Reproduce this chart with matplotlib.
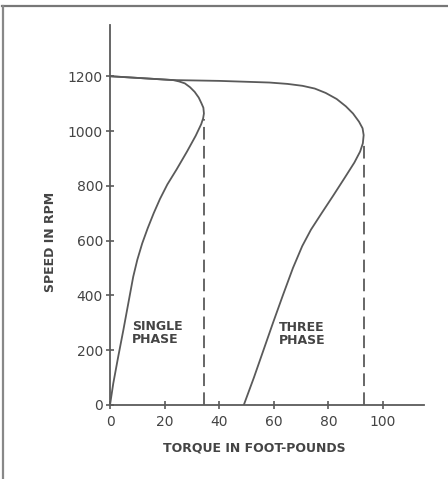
import matplotlib
matplotlib.use("Agg")
import matplotlib.pyplot as plt
from matplotlib.lines import Line2D

# ---- data ----
single_torque = [0, 1.2, 3.0, 4.9, 6.7, 8.5, 10.0, 11.8, 13.8, 16.0, 18.3, 21.0, 24.4, 28.2,
                 31.4, 33.4, 34.1, 34.4, 34.2, 33.5, 32.5, 31.0, 29.3, 27.4, 25.3, 23.1, 0]
single_speed = [0, 79, 176, 274, 371, 468, 530, 590, 645, 700, 752, 805, 860, 925,
                983, 1025, 1046, 1064, 1085, 1101, 1122, 1143, 1160, 1174, 1181, 1186, 1200]

three_torque = [0, 23.1, 40.1, 58.4, 65.0, 70.5, 75.0, 79.0, 83.0, 86.4, 89.0, 91.2, 92.5,
                92.9, 92.6, 91.6, 89.5, 86.0, 81.8, 77.5, 73.6, 70.4, 67.0, 63.3, 59.7,
                56.2, 52.7, 49.0]
three_speed = [1200, 1186, 1183, 1177, 1172, 1165, 1155, 1139, 1117, 1090, 1064, 1034, 1010,
               985, 955, 925, 885, 830, 765, 700, 640, 580, 500, 400, 300,
               200, 100, 0]

single_max_torque = 34.3
single_dash_top = 1045
three_max_torque = 92.9
three_dash_top = 960

x_ticks = [0, 20, 40, 60, 80, 100]
y_ticks = [0, 200, 400, 600, 800, 1000, 1200]
x_label = "TORQUE IN FOOT-POUNDS"
y_label = "SPEED IN RPM"
single_label = "SINGLE\nPHASE"
three_label = "THREE\nPHASE"

# ---- figure ----
W, H = 448, 479
fig = plt.figure(figsize=(W / 100, H / 100), dpi=100)
fig.patch.set_facecolor("white")

ax = fig.add_axes([110 / W, (H - 405) / H, 314 / W, 380 / H])
ax.set_xlim(0, 115)
ax.set_ylim(0, 1387)

ink = "#5a5a5a"
txt = "#444444"

ax.plot(single_torque, single_speed, color=ink, lw=1.3, solid_joinstyle="round")
ax.plot(three_torque, three_speed, color=ink, lw=1.3, solid_joinstyle="round")
ax.plot([single_max_torque, single_max_torque], [0, single_dash_top], color=ink, lw=1.3,
        dashes=(7, 3.5))
ax.plot([three_max_torque, three_max_torque], [0, three_dash_top], color=ink, lw=1.3,
        dashes=(7, 3.5))

for s in ["top", "right"]:
    ax.spines[s].set_visible(False)
for s in ["left", "bottom"]:
    ax.spines[s].set_color(ink)
    ax.spines[s].set_linewidth(1.3)

ax.set_xticks(x_ticks)
ax.set_yticks(y_ticks)
ax.set_xticklabels([str(v) for v in x_ticks], fontsize=10, color=txt)
ax.set_yticklabels([str(v) for v in y_ticks], fontsize=10, color=txt)
ax.tick_params(axis="both", direction="inout", length=6, width=1.2, color=ink)
ax.tick_params(axis="x", pad=4)
ax.tick_params(axis="y", pad=2)

ax.text(8.0, 263, single_label, fontsize=9, fontweight="bold", color=txt,
        ha="left", va="center", linespacing=1.05)
ax.text(62.0, 259, three_label, fontsize=9, fontweight="bold", color=txt,
        ha="left", va="center", linespacing=1.05)

fig.text(254 / W, 1 - 448 / H, x_label, fontsize=9, fontweight="bold", color=txt,
         ha="center", va="center")
fig.text(50 / W, 1 - 242 / H, y_label, fontsize=9, fontweight="bold", color=txt,
         ha="center", va="center", rotation=90)

# frame of the scanned figure
fig.add_artist(Line2D([2 / W, 1.0], [1 - 6 / H, 1 - 6 / H], transform=fig.transFigure,
                      color="#777777", lw=1.6))
fig.add_artist(Line2D([3 / W, 3 / W], [1 - 6 / H, 0.0], transform=fig.transFigure,
                      color="#888888", lw=1.6))

fig.savefig("out.png", dpi=100, facecolor="white")
